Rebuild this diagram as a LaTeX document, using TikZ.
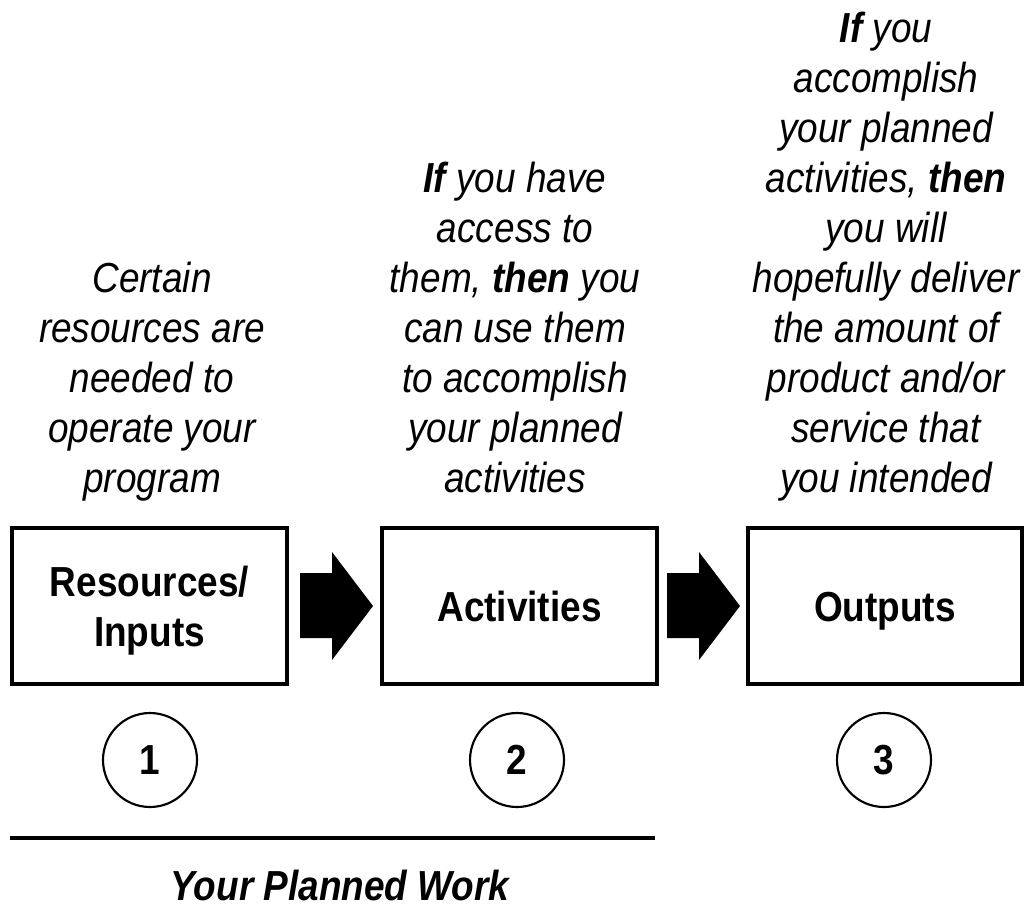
\documentclass[tikz,border=0pt]{standalone}
\usepackage{fontspec}
\setmainfont{Liberation Sans}[FakeStretch=0.88]
\begin{document}
\begin{tikzpicture}[x=0.75pt,y=-0.75pt,
  stepbox/.style={draw,line width=2.4pt,inner sep=0pt},
  boxlabel/.style={font=\fontsize{31.5}{37.5}\selectfont\bfseries,align=center,anchor=base,inner sep=0pt},
  desc/.style={font=\fontsize{31.5}{37.5}\selectfont\itshape,align=center,anchor=base,inner sep=0pt},
  numcirc/.style={draw,circle,line width=1.6pt,minimum size=94*0.75pt,inner sep=0pt,font=\fontsize{31.5}{37.5}\selectfont\bfseries},
  bigarrow/.style={fill=black}]
\useasboundingbox (0,0) rectangle (1034,907);
% boxes
\node[stepbox,minimum width=275*0.75pt,minimum height=156*0.75pt] (b1) at (149.5,606) {};
\node[stepbox,minimum width=275*0.75pt,minimum height=156*0.75pt] (b2) at (519.5,606) {};
\node[stepbox,minimum width=274*0.75pt,minimum height=156*0.75pt] (b3) at (885,606) {};
\node[boxlabel] (l1) at (149.5,646) {Resources/\\Inputs};
\node[boxlabel] (l2) at (519.5,621) {Activities};
\node[boxlabel] (l3) at (885,621) {Outputs};
% arrows
\fill[bigarrow] (300,573) -- (332,573) -- (332,552) -- (373,606) -- (332,660) -- (332,638) -- (300,638) -- cycle;
\fill[bigarrow] (667,573) -- (699,573) -- (699,552) -- (740,606) -- (699,660) -- (699,638) -- (667,638) -- cycle;
% circles
\node[numcirc] (c1) at (150,760) {1};
\node[numcirc] (c2) at (517,760) {2};
\node[numcirc] (c3) at (884,760) {3};
% descriptions
\node[desc] (d1) at (152,492) {Certain\\resources are\\needed to\\operate your\\program};
\node[desc] (d2) at (515,492) {\textbf{If} you have\\access to\\them, \textbf{then} you\\can use them\\to accomplish\\your planned\\activities};
\node[desc] (d3) at (886,492) {\textbf{If} you\\accomplish\\your planned\\activities, \textbf{then}\\you will\\hopefully deliver\\the amount of\\product and/or\\service that\\you intended};
% bottom
\coordinate (la) at (10,838);
\coordinate (lb) at (655,838);
\draw[line width=2.4pt] (la) -- (lb);
\node[font=\fontsize{31.5}{37.5}\selectfont\bfseries\itshape,anchor=base] (pw) at (340,900) {Your Planned Work};
\end{tikzpicture}
\end{document}
